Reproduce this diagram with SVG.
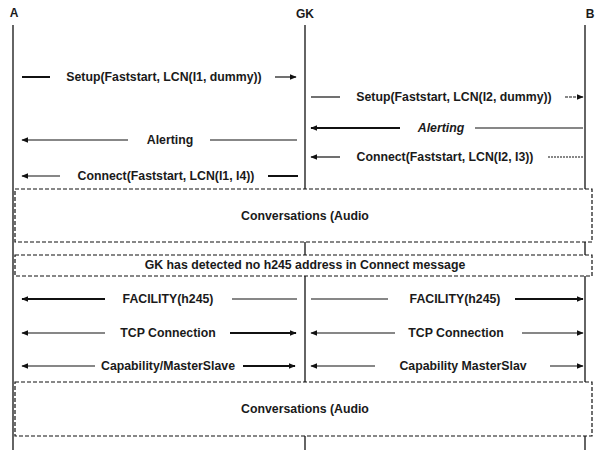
<svg xmlns="http://www.w3.org/2000/svg" width="597" height="450" viewBox="0 0 597 450">
<style>
text{font-family:"Liberation Sans",Arial,sans-serif;font-size:12.3px;font-weight:bold;fill:#1a1a1a;text-anchor:middle}
.hd{font-size:12px}
.life{stroke:#111;stroke-width:1.3;fill:none}
.ln{stroke:#111;stroke-width:1.2;fill:none}
.th{stroke:#111;stroke-width:2;fill:none}
.box{stroke:#111;stroke-width:1.2;stroke-dasharray:4 2;fill:#fff}
</style>
<defs>
<marker id="ah" viewBox="0 0 10 10" refX="9" refY="5" markerWidth="7" markerHeight="7" markerUnits="userSpaceOnUse" orient="auto-start-reverse"><path d="M0,1 L10,5 L0,9 Z" fill="#111"/></marker>
</defs>
<g id="lifelines">
<g id="A"><text class="hd" x="14" y="17">A</text><line class="life" x1="13" y1="25" x2="13" y2="450"/></g>
<g id="GK"><text class="hd" x="305" y="18">GK</text><line class="life" x1="305" y1="25" x2="305" y2="450"/></g>
<g id="B"><text class="hd" x="590" y="18">B</text><line class="life" x1="585" y1="25" x2="585" y2="450"/></g>
</g>
<g id="connectors">
<line class="th" x1="22" y1="77" x2="50" y2="77"/>
<line class="ln" x1="275" y1="77" x2="296" y2="77" marker-end="url(#ah)"/>
<line class="ln" x1="311" y1="97" x2="340" y2="97"/>
<line class="ln" x1="565" y1="97" x2="583" y2="97" stroke-dasharray="3 1" marker-end="url(#ah)"/>
<line class="th" x1="311" y1="128" x2="400" y2="128" marker-start="url(#ah)"/>
<line class="ln" x1="475" y1="128" x2="583" y2="128"/>
<line class="ln" x1="22" y1="140" x2="128" y2="140" marker-start="url(#ah)"/>
<line class="ln" x1="210" y1="140" x2="297" y2="140"/>
<line class="ln" x1="311" y1="157" x2="340" y2="157" marker-start="url(#ah)"/>
<line class="ln" x1="548" y1="157" x2="583" y2="157" stroke-dasharray="2 1"/>
<line class="ln" x1="22" y1="176" x2="60" y2="176" marker-start="url(#ah)"/>
<line class="th" x1="268" y1="176" x2="298" y2="176"/>
<line class="th" x1="22" y1="299" x2="105" y2="299" marker-start="url(#ah)"/>
<line class="ln" x1="232" y1="299" x2="297" y2="299"/>
<line class="ln" x1="311" y1="299" x2="388" y2="299"/>
<line class="th" x1="515" y1="299" x2="583" y2="299" marker-end="url(#ah)"/>
<line class="ln" x1="22" y1="333" x2="105" y2="333" marker-start="url(#ah)"/>
<line class="th" x1="230" y1="333" x2="296" y2="333" marker-end="url(#ah)"/>
<line class="ln" x1="311" y1="333" x2="395" y2="333" marker-start="url(#ah)"/>
<line class="ln" x1="522" y1="333" x2="583" y2="333" marker-end="url(#ah)"/>
<line class="ln" x1="22" y1="366" x2="95" y2="366" marker-start="url(#ah)"/>
<line class="th" x1="243" y1="366" x2="295" y2="366" marker-end="url(#ah)"/>
<line class="ln" x1="311" y1="366" x2="375" y2="366" marker-start="url(#ah)"/>
<line class="ln" x1="550" y1="366" x2="583" y2="366" marker-end="url(#ah)"/>
</g>
<g id="labels">
<text x="164" y="81">Setup(Faststart, LCN(I1, dummy))</text>
<text x="454" y="101">Setup(Faststart, LCN(I2, dummy))</text>
<text x="441" y="132" font-style="italic">Alerting</text>
<text x="170" y="144">Alerting</text>
<text x="445" y="161">Connect(Faststart, LCN(I2, I3))</text>
<text x="166" y="180">Connect(Faststart, LCN(I1, I4))</text>
<text x="168" y="303">FACILITY(h245)</text>
<text x="455" y="303">FACILITY(h245)</text>
<text x="168" y="337">TCP Connection</text>
<text x="456" y="337">TCP Connection</text>
<text x="168" y="370">Capability/MasterSlave</text>
<text x="463" y="370">Capability  MasterSlav</text>
</g>
<g id="conv1"><rect class="box" x="15" y="189" width="577" height="53"/><text x="305" y="220">Conversations (Audio</text></g>
<g id="note"><rect class="box" x="15" y="255" width="577" height="21"/><text x="305" y="269">GK has detected no h245 address in Connect message</text></g>
<g id="conv2"><rect class="box" x="15" y="382" width="577" height="54"/><text x="305" y="413">Conversations (Audio</text></g>
</svg>
